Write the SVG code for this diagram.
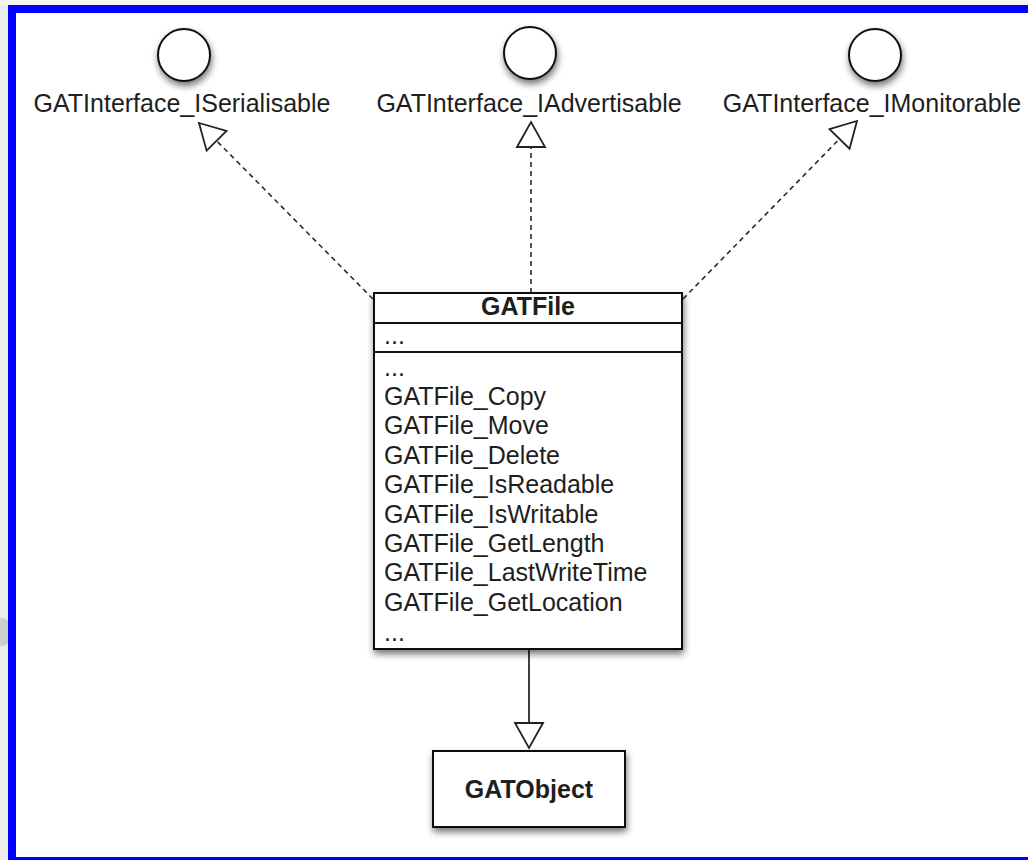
<svg xmlns="http://www.w3.org/2000/svg" width="1028" height="860" viewBox="0 0 1028 860">
  <style>
    .lbl { font-family: "Liberation Sans", Arial, sans-serif; font-size: 25px; fill: #1e1e1e; }
    .bold { font-weight: bold; }
    .shape { fill: #ffffff; stroke: #111111; stroke-width: 2; }
    .div { stroke: #111111; stroke-width: 2; }
    .dash { fill: none; stroke: #2a2a2a; stroke-width: 1.6; stroke-dasharray: 5 4; }
    .solid { fill: none; stroke: #2a2a2a; stroke-width: 1.8; }
  </style>
  <defs>
    <filter id="shadow" x="-30%" y="-30%" width="160%" height="170%">
      <feGaussianBlur in="SourceAlpha" stdDeviation="3.5"/>
      <feOffset dx="1" dy="4" result="b"/>
      <feComponentTransfer><feFuncA type="linear" slope="0.55"/></feComponentTransfer>
      <feMerge><feMergeNode/><feMergeNode in="SourceGraphic"/></feMerge>
    </filter>
    <marker id="tri" markerUnits="userSpaceOnUse" markerWidth="30" markerHeight="34" refX="27" refY="16" orient="auto" overflow="visible">
      <path d="M2,2 L27,16 L2,30 Z" fill="#ffffff" stroke="#222222" stroke-width="1.8" stroke-linejoin="miter"/>
    </marker>
  </defs>

  <!-- page background -->
  <rect x="0" y="0" width="1028" height="860" fill="#ececec"/>
  <rect x="0" y="0" width="1028" height="5" fill="#f3f3ef"/>
  <ellipse cx="2" cy="632" rx="10" ry="14" fill="#bdbdbd" opacity="0.6"/>
  <rect x="8" y="5" width="1020" height="855" fill="#0000ff"/>
  <rect x="16" y="13" width="1012" height="844" fill="#ffffff"/>

  <g id="connectors">
    <line class="dash" x1="373" y1="299" x2="199" y2="123" marker-end="url(#tri)"/>
    <line class="dash" x1="531" y1="293" x2="531" y2="122" marker-end="url(#tri)"/>
    <line class="dash" x1="683" y1="299" x2="857" y2="121" marker-end="url(#tri)"/>
    <line class="solid" x1="529" y1="649" x2="529" y2="748" marker-end="url(#tri)"/>
  </g>

  <g id="iserialisable">
    <circle class="shape" cx="184" cy="55" r="26" filter="url(#shadow)"/>
    <text class="lbl" x="182" y="112" text-anchor="middle">GATInterface_ISerialisable</text>
  </g>

  <g id="iadvertisable">
    <circle class="shape" cx="530" cy="53" r="26" filter="url(#shadow)"/>
    <text class="lbl" x="529" y="112" text-anchor="middle">GATInterface_IAdvertisable</text>
  </g>

  <g id="imonitorable">
    <circle class="shape" cx="875" cy="55" r="26" filter="url(#shadow)"/>
    <text class="lbl" x="872" y="112" text-anchor="middle">GATInterface_IMonitorable</text>
  </g>

  <g id="gatfile">
    <rect class="shape" x="374" y="293" width="308" height="356" filter="url(#shadow)"/>
    <line class="div" x1="374" y1="323" x2="682" y2="323"/>
    <line class="div" x1="374" y1="352" x2="682" y2="352"/>
    <text class="lbl bold" x="528" y="315" text-anchor="middle">GATFile</text>
    <text class="lbl" x="384" y="344">...</text>
    <text class="lbl" x="384" y="376">...</text>
    <text class="lbl" x="384" y="405">GATFile_Copy</text>
    <text class="lbl" x="384" y="434">GATFile_Move</text>
    <text class="lbl" x="384" y="464">GATFile_Delete</text>
    <text class="lbl" x="384" y="493">GATFile_IsReadable</text>
    <text class="lbl" x="384" y="523">GATFile_IsWritable</text>
    <text class="lbl" x="384" y="552">GATFile_GetLength</text>
    <text class="lbl" x="384" y="581">GATFile_LastWriteTime</text>
    <text class="lbl" x="384" y="611">GATFile_GetLocation</text>
    <text class="lbl" x="384" y="641">...</text>
  </g>

  <g id="gatobject">
    <rect class="shape" x="433" y="751" width="192" height="76" filter="url(#shadow)"/>
    <text class="lbl bold" x="529" y="798" text-anchor="middle">GATObject</text>
  </g>
</svg>
